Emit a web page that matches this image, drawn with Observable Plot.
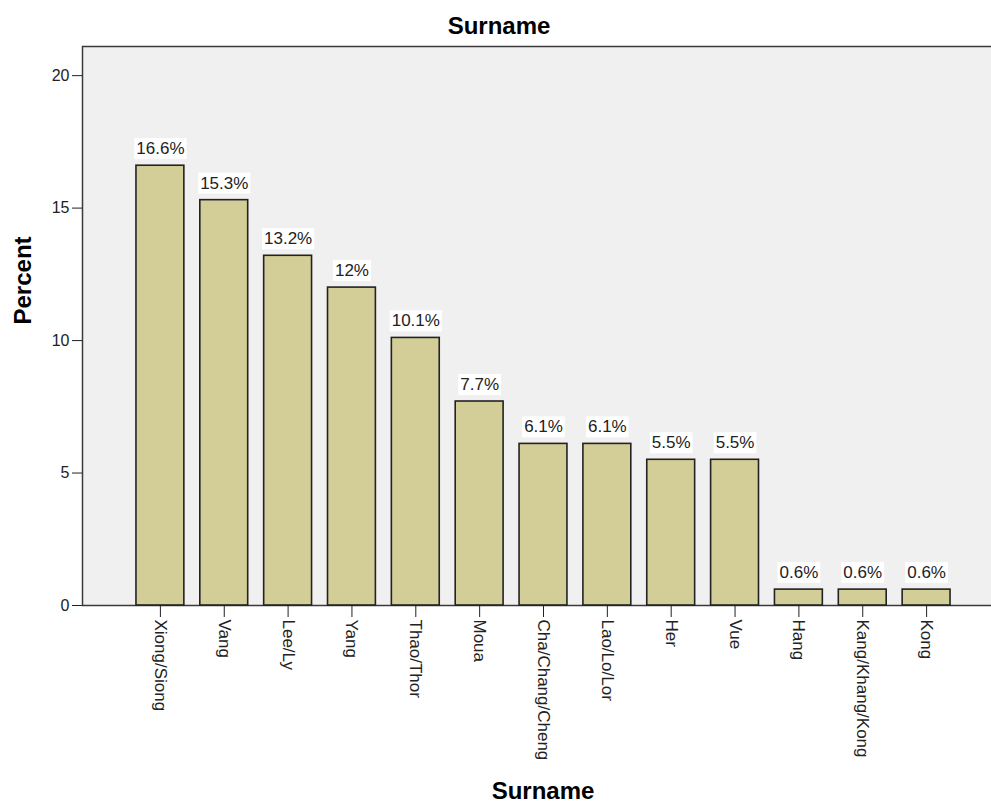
<!DOCTYPE html>
<html>
<head>
<meta charset="utf-8">
<script src="https://cdn.jsdelivr.net/npm/d3@7"></script>
<script src="https://cdn.jsdelivr.net/npm/@observablehq/plot@0.6"></script>
<style>
  html, body { margin: 0; padding: 0; background: #fff; overflow: hidden; }
  #chart svg { display: block; }
</style>
</head>
<body>
<div id="chart"></div>
<script>
// Surname frequencies (percent of respondents)
const surnames = [
  "Xiong/Siong", "Vang", "Lee/Ly", "Yang", "Thao/Thor", "Moua",
  "Cha/Chang/Cheng", "Lao/Lo/Lor", "Her", "Vue", "Hang",
  "Kang/Khang/Kong", "Kong"
];
const percents = [16.6, 15.3, 13.2, 12, 10.1, 7.7, 6.1, 6.1, 5.5, 5.5, 0.6, 0.6, 0.6];
const yTicks = [0, 5, 10, 15, 20];

const rows = surnames.map((name, i) => ({name, value: percents[i]}));

const FONT = "'Liberation Sans', Arial, sans-serif";

const chart = Plot.plot({
  width: 991,
  height: 803,
  marginLeft: 82,
  marginRight: 0,
  marginTop: 46,
  marginBottom: 198,
  style: {fontFamily: FONT, fontSize: "16px", color: "#222", background: "#fff"},
  x: {type: "band", domain: surnames, range: [120, 966], padding: 0.25, round: false},
  y: {domain: [0, 21.1]},
  marks: [
    Plot.frame({fill: "#f0f0f0", stroke: "#3a3a3a", strokeWidth: 1.5, insetRight: -4}),
    Plot.barY(rows, {x: "name", y: "value", fill: "#d3ce97", stroke: "#222", strokeWidth: 1.6}),
    Plot.axisY({ticks: yTicks, tickSize: 10, tickPadding: 3, fontSize: 16, label: null}),
    Plot.axisX({tickSize: 12, tickRotate: 90, tickPadding: 2, fontSize: 17, label: null}),
    Plot.text(rows, {
      x: "name", y: "value", text: d => `${d.value}%`,
      dy: -17, lineAnchor: "middle", fontSize: 17, fill: "#222"
    }),
    // chart title
    Plot.text(["Surname"], {
      text: d => d, frameAnchor: "top", lineAnchor: "bottom",
      dy: -13, dx: -38, fontSize: 24, fontWeight: "bold", fill: "#000"
    }),
    // x axis title
    Plot.text(["Surname"], {
      text: d => d, frameAnchor: "bottom", lineAnchor: "bottom",
      dy: 193, dx: 6, fontSize: 24, fontWeight: "bold", fill: "#000"
    }),
    // y axis title
    Plot.text(["Percent"], {
      text: d => d, frameAnchor: "left", lineAnchor: "bottom", rotate: -90,
      dx: -52, dy: -1.5, fontSize: 24, fontWeight: "bold", fill: "#000"
    })
  ]
});

document.getElementById("chart").appendChild(chart);

// White boxes behind the percentage labels
d3.select(chart).selectAll("text")
  .filter(function () { return /%$/.test(this.textContent); })
  .each(function () {
    const b = this.getBBox();
    const t = this.getAttribute("transform");
    d3.select(this.parentNode).insert("rect", () => this)
      .attr("x", b.x - 2).attr("y", b.y - 1)
      .attr("width", b.width + 4).attr("height", b.height + 2)
      .attr("transform", t)
      .attr("fill", "#fff");
  });
</script>
</body>
</html>
